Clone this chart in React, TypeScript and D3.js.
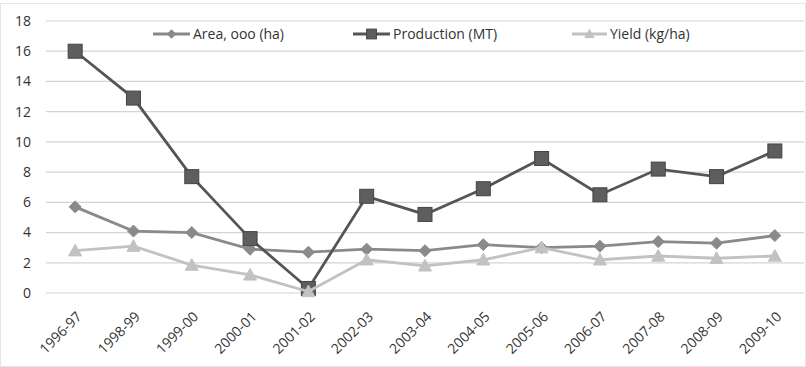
import React from "react";
import * as d3 from "d3";

const categories = ["1996-97","1998-99","1999-00","2000-01","2001-02","2002-03","2003-04","2004-05","2005-06","2006-07","2007-08","2008-09","2009-10"];
const areaValues = [5.7,4.1,4.0,2.9,2.7,2.9,2.8,3.2,3.0,3.1,3.4,3.3,3.8];
const productionValues = [16.0,12.9,7.7,3.6,0.3,6.4,5.2,6.9,8.9,6.5,8.2,7.7,9.4];
const yieldValues = [2.8,3.1,1.85,1.2,0.1,2.2,1.8,2.2,3.0,2.2,2.45,2.3,2.45];
const yTicks = [0,2,4,6,8,10,12,14,16,18];
const seriesNames = ["Area, ooo (ha)","Production (MT)","Yield (kg/ha)"];

const W = 806, H = 367;
const left = 46, right = 804, top = 21, bottom = 293;
const font = "'Open Sans', 'Liberation Sans', sans-serif";

export default function App() {
  const x = d3.scaleBand<string>().domain(categories).range([left, right]);
  const y = d3.scaleLinear().domain([0, 18]).range([bottom, top]);
  const cx = (c: string) => (x(c) as number) + x.bandwidth() / 2;
  const line = (vals: number[]) =>
    d3.line<number>().x((_, i) => cx(categories[i])).y(v => y(v))(vals) as string;

  const series = [
    { name: seriesNames[0], vals: areaValues, color: "#8a8a8a", marker: "diamond" },
    { name: seriesNames[1], vals: productionValues, color: "#555555", marker: "square" },
    { name: seriesNames[2], vals: yieldValues, color: "#c2c2c2", marker: "triangle" },
  ];

  const marker = (m: string, px: number, py: number, color: string, key: any, size = 1) => {
    if (m === "square") {
      const s = 7 * size;
      return <rect key={key} x={px - s} y={py - s} width={2 * s} height={2 * s} fill="#5e5e5e" stroke="#444" strokeWidth={1} />;
    }
    if (m === "diamond") {
      const s = 6 * size;
      return <path key={key} d={`M${px},${py - s}L${px + s},${py}L${px},${py + s}L${px - s},${py}Z`} fill={color} stroke={color} />;
    }
    const s = 6.5 * size;
    return <path key={key} d={`M${px},${py - s}L${px + s},${py + s * 0.8}L${px - s},${py + s * 0.8}Z`} fill={color} stroke={color} />;
  };

  const legend = [
    { x0: 153, x1: 190, tx: 193 },
    { x0: 353, x1: 390, tx: 393 },
    { x0: 572, x1: 607, tx: 610 },
  ];
  const ly = 34;

  return (
    <svg width={W} height={H} style={{ position: "absolute", left: 0, top: 0, background: "#fff" }} fontFamily={font}>
      <rect x={0.5} y={3.5} width={W - 1} height={H - 4} fill="none" stroke="#e6e6e6" />
      {yTicks.map(t => (
        <g key={t}>
          <line x1={left} x2={right} y1={y(t)} y2={y(t)} stroke="#d4d4d4" strokeWidth={1.2} />
          <text x={31} y={y(t)} dy="0.35em" textAnchor="end" fontSize={14} fill="#333">{t}</text>
        </g>
      ))}
      {categories.map(c => (
        <text key={c} transform={`translate(${cx(c) + 4},${bottom + 21}) rotate(-45)`} textAnchor="end" dy="0.35em" fontSize={14} fill="#333">{c}</text>
      ))}
      {series.map(s => (
        <g key={s.name}>
          <path d={line(s.vals)} fill="none" stroke={s.color} strokeWidth={2.8} />
          {s.vals.map((v, i) => marker(s.marker, cx(categories[i]), y(v), s.color, i))}
        </g>
      ))}
      {series.map((s, i) => (
        <g key={"l" + i}>
          <line x1={legend[i].x0} x2={legend[i].x1} y1={ly} y2={ly} stroke={s.color} strokeWidth={2.8} />
          {marker(s.marker, (legend[i].x0 + legend[i].x1) / 2, ly, s.color, "m", 0.7)}
          <text x={legend[i].tx} y={ly} dy="0.35em" fontSize={14} fill="#333">{s.name}</text>
        </g>
      ))}
    </svg>
  );
}
